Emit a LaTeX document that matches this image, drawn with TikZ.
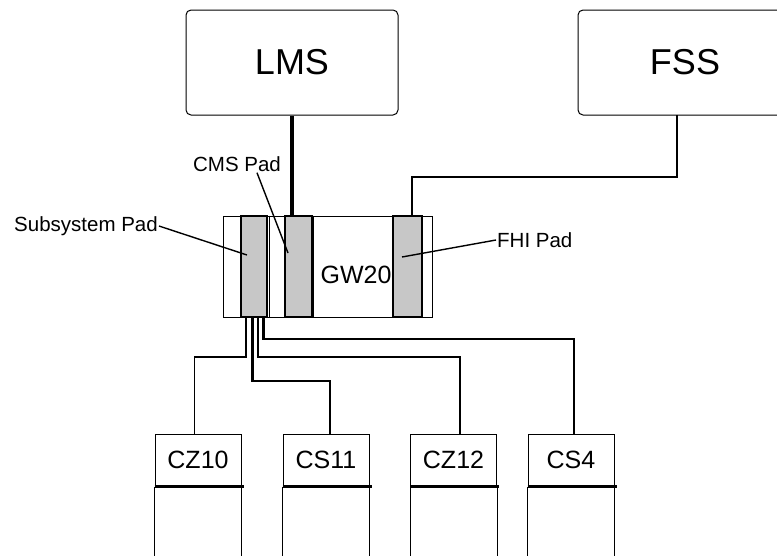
\documentclass[tikz,border=0pt]{standalone}
\usepackage{fontspec}
\setmainfont{Liberation Sans}
\usetikzlibrary{positioning,calc}

\begin{document}
\begin{tikzpicture}[
  x=1pt, y=-1pt,
  sysbox/.style={rounded corners=5pt, draw=black, line width=1pt, inner sep=0pt, font=\fontsize{36}{40}\selectfont},
  gwbox/.style={draw=black, line width=1pt, inner sep=0pt},
  pad/.style={draw=black, line width=1.4pt, fill=black!22, inner sep=0pt},
  subbox/.style={draw=black, line width=1pt, minimum width=86pt, minimum height=52pt, inner sep=0pt, font=\fontsize{25}{28}\selectfont},
  lbl/.style={inner sep=1pt, font=\fontsize{20.5}{23}\selectfont},
  wire/.style={draw=black, line width=2.9pt},
  mainwire/.style={draw=black, line width=4.3pt},
  thinwire/.style={draw=black, line width=0.9pt},
  leader/.style={draw=black, line width=1.4pt},
  divider/.style={draw=black, line width=2.7pt},
]
\useasboundingbox (0,0) rectangle (777,555);

% systems
\node[sysbox, minimum width=212pt, minimum height=105pt] (lms) at (292,62.5) {LMS};
\node[sysbox, minimum width=214pt, minimum height=105pt] (fss) at (685,62.5) {FSS};

% gateway with pads
\node[gwbox, minimum width=209pt, minimum height=101pt] (gw) at (327.5,266.5) {};
\node[pad, minimum width=26pt, minimum height=101pt] (subpad) at (254,266.5) {};
\node[pad, minimum width=27pt, minimum height=101pt] (cmspad) at (298.5,266.5) {};
\node[pad, minimum width=29pt, minimum height=101pt] (fhipad) at (407.5,266.5) {};
\draw[line width=0.8pt] (gw.north -| 269,0) -- (gw.south -| 269,0);
\draw[line width=0.8pt] (gw.north -| 313.5,0) -- (gw.south -| 313.5,0);
\node[font=\fontsize{25}{28}\selectfont, inner sep=0pt] (gwtxt) at (356,275) {GW20};

% pad labels
\node[lbl, anchor=west] (sublbl) at (13,226) {Subsystem Pad};
\node[lbl] (cmslbl) at (237,164) {CMS Pad};
\node[lbl, anchor=west] (fhilbl) at (496,240) {FHI Pad};
\coordinate (subtip) at (247,255);
\coordinate (cmstip) at (288,253);
\coordinate (fhitip) at (402,257);
\draw[leader] (sublbl.east) -- (subtip);
\draw[leader] ([xshift=20pt]cmslbl.south) -- (cmstip);
\draw[leader] (fhilbl.west) -- (fhitip);

% upper links
\draw[mainwire] (lms.south) -- (lms.south |- gw.north);
\coordinate (fssport) at (677,115);
\coordinate (fhiport) at (412,216);
\draw[wire] (fhiport) -- (412,177) -| (fssport);

% subsystems
\node[subbox] (cz10) at (198,460) {CZ10};
\node[subbox] (cs11) at (326,460) {CS11};
\node[subbox] (cz12) at (453.5,460) {CZ12};
\node[subbox] (cs4)  at (571,460) {CS4};
\foreach \s in {cz10,cs11,cz12,cs4}{
  \draw[line width=1pt] (\s.south west) -- ++(0,72);
  \draw[line width=1pt] (\s.south east) -- ++(0,72);
  \draw[divider] (\s.south west) -- ([xshift=2pt]\s.south east);
}

% links from subsystem pad
\coordinate (p1) at (246,317);
\coordinate (p2) at (252.5,317);
\coordinate (p3) at (258,317);
\coordinate (p4) at (263.5,317);
\coordinate (k1) at (194,357);
\coordinate (k2) at (330,381);
\coordinate (k3) at (460,357);
\coordinate (k4) at (574,339);
\draw[wire] (p1) |- (k1);
\draw[thinwire] (k1) -- (k1 |- cz10.north);
\draw[wire] (p2) |- (k2) -- (k2 |- cs11.north);
\draw[wire] (p3) |- (k3) -- (k3 |- cz12.north);
\draw[wire] (p4) |- (k4) -- (k4 |- cs4.north);

\end{tikzpicture}
\end{document}
